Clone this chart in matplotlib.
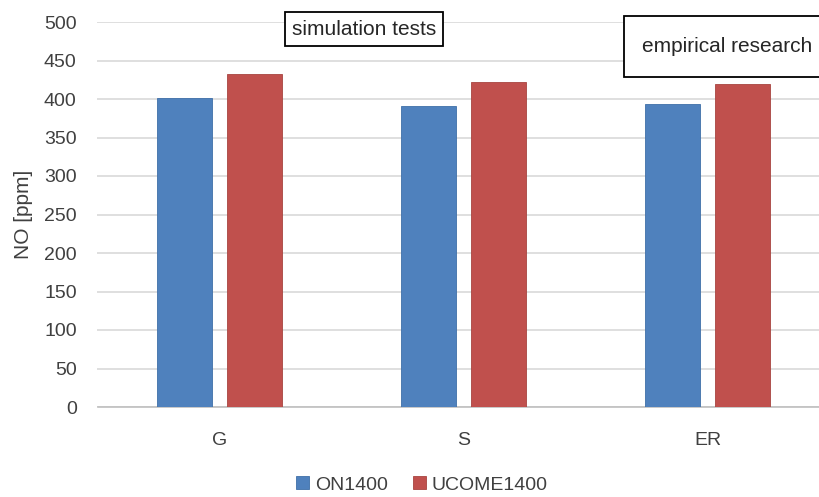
import numpy as np
import matplotlib.pyplot as plt
from matplotlib.patches import Rectangle

plt.rcParams['font.family'] = ['Liberation Sans', 'DejaVu Sans']

categories = ['G', 'S', 'ER']
on1400 = [401, 391, 394]
ucome1400 = [433, 422, 419]
yticks = [0, 50, 100, 150, 200, 250, 300, 350, 400, 450, 500]

W, H = 820, 497
fig = plt.figure(figsize=(8.2, 4.97), dpi=100)
ax = fig.add_axes([97.5 / W, 90 / H, 732 / W, 385 / H])

x = np.arange(len(categories))
w = 0.225
off = 0.143
ax.bar(x - off, on1400, w, color='#4F81BD', edgecolor='#3F6FA8', linewidth=0.6,
       label='ON1400', zorder=3)
ax.bar(x + off, ucome1400, w, color='#C0504D', edgecolor='#A84440', linewidth=0.6,
       label='UCOME1400', zorder=3)

ax.set_xlim(-0.5, 2.5)
ax.set_ylim(0, 500)
ax.set_yticks(yticks)
ax.set_xticks(x)
ax.set_xticklabels(categories)
ax.tick_params(axis='both', length=0, labelsize=14, colors='#404040')
ax.tick_params(axis='x', pad=18)
ax.tick_params(axis='y', pad=15)
ax.yaxis.grid(True, color='#D9D9D9', linewidth=1.2, zorder=0)
for s in ['top', 'right', 'left']:
    ax.spines[s].set_visible(False)
ax.spines['bottom'].set_color('#BFBFBF')
ax.spines['bottom'].set_linewidth(1.2)
ax.set_ylabel('NO [ppm]', fontsize=15, color='#404040', labelpad=8)

# annotation boxes (pixel positions from the reference)
def px_box(x0, y0, x1, y1):
    r = Rectangle((x0 / W, 1 - y1 / H), (x1 - x0) / W, (y1 - y0) / H,
                  transform=fig.transFigure, facecolor='white', edgecolor='black',
                  linewidth=1.3, zorder=5)
    fig.patches.append(r)

px_box(285, 12, 443, 46)
fig.text(364 / W, 1 - 29.5 / H, 'simulation tests', fontsize=15, color='#262626',
         ha='center', va='center', zorder=6)
px_box(624, 16, 830, 77)
fig.text(727 / W, 1 - 47 / H, 'empirical research', fontsize=15, color='#262626',
         ha='center', va='center', zorder=6)

fig.legend(loc='center', bbox_to_anchor=(422 / W, 1 - 485 / H), ncol=2, frameon=False,
           fontsize=14, handlelength=0.65, handleheight=0.65, handletextpad=0.3,
           columnspacing=1.3, labelcolor='#404040')

fig.savefig('out.png', dpi=100)
